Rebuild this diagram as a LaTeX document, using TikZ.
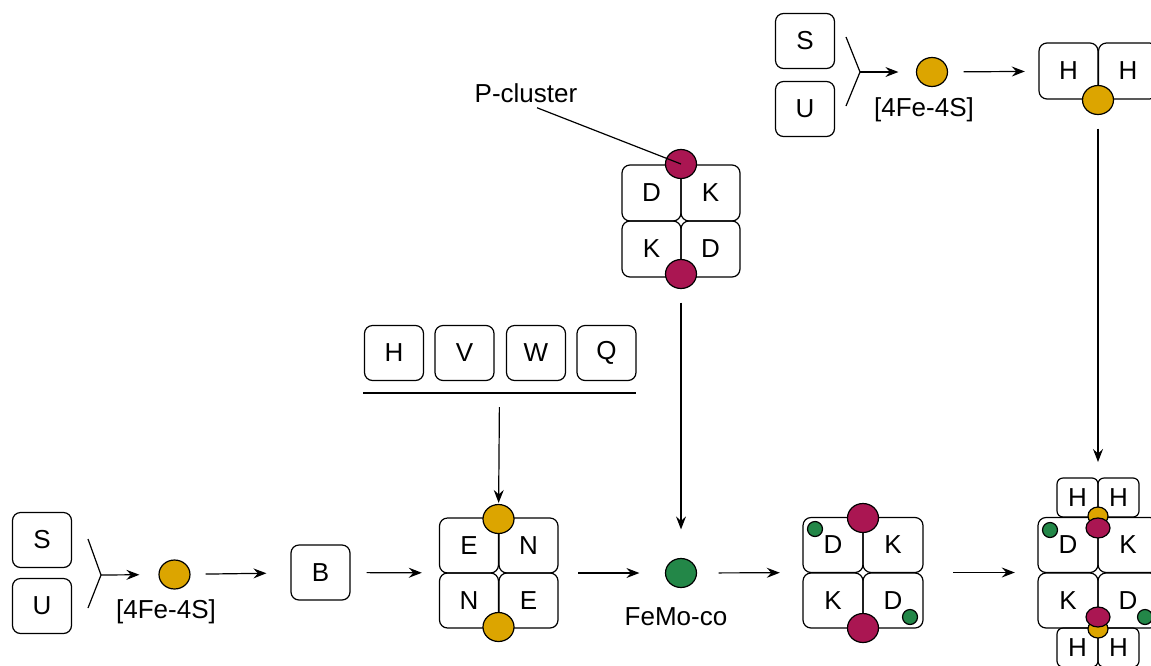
\documentclass[tikz,border=0pt]{standalone}
\usepackage{fontspec}
\setmainfont{Liberation Sans}
\usetikzlibrary{shapes.geometric,arrows.meta}
\definecolor{gold}{HTML}{DCA500}
\definecolor{pc}{HTML}{AA1652}
\definecolor{fm}{HTML}{238748}
\begin{document}
\begin{tikzpicture}[x=1pt,y=-1pt,
  box/.style={draw,rounded corners=8pt,line width=1.2pt,minimum width=59pt,minimum height=55pt,inner sep=0pt,font=\fontsize{26}{30}\selectfont},
  sbox/.style={box,minimum width=41pt,minimum height=39pt,rounded corners=6pt},
  dot/.style={draw,ellipse,line width=1.2pt,inner sep=0pt,minimum width=31pt,minimum height=29pt},
  fes/.style={dot,fill=gold}, pcl/.style={dot,fill=pc}, fmc/.style={dot,fill=fm},
  sdot/.style={dot,minimum width=15pt,minimum height=15pt,fill=fm},
  cplx/.style={inner sep=0pt},
  lbl/.style={font=\fontsize{26}{30}\selectfont,inner sep=0pt},
  arr/.style={line width=1.2pt,-{Stealth[length=13pt,width=10pt,inset=4.5pt]}},
  ln/.style={line width=1.2pt}]
\useasboundingbox (0,0) rectangle (1151,665);

% ---------- bottom row ----------
\node[box] (S1) at (42,540) {S};
\node[box] (U1) at (42,606) {U};
\coordinate (f1a) at (88,539);
\coordinate (f1b) at (88,608);
\coordinate (fork1) at (101,575);
\draw[ln] (f1a) -- (fork1) -- (f1b);
\node[fes] (g1) at (174.5,574.5) {};
\node[lbl] (l1) at (166,612) {[4Fe-4S]};
\draw[arr,shorten >=19pt] (fork1) -- (g1);
\node[box] (B) at (320.5,572.5) {B};
\draw[arr,shorten <=15pt,shorten >=24pt] (g1) -- (B);

% E/N complex
\node[cplx,minimum width=119pt,minimum height=110pt] (EN) at (498.5,573) {};
\node[box] (en1) at (469,545.5) {E};
\node[box] (en2) at (528.5,545.5) {N};
\node[box] (en3) at (469,600.5) {N};
\node[box] (en4) at (528.5,600.5) {E};
\node[fes] (eng1) at (498.5,519) {};
\node[fes] (eng2) at (498.5,627) {};
\draw[arr,shorten <=16pt,shorten >=17pt] (B) -- (EN);

% HVWQ
\node[box] (h1) at (394,353) {H};
\node[box] (v1) at (464.5,353) {V};
\node[box] (w1) at (536,353) {W};
\node[box] (q1) at (606.5,353) {Q};
\coordinate (barL) at (363,393);
\coordinate (barR) at (636,393);
\coordinate (barC) at (499.5,393);
\draw[ln] (barL) -- (barR);
\draw[arr,shorten <=14pt,shorten >=1pt] (barC) -- (eng1);

% FeMo-co
\node[fmc] (femo) at (681,573) {};
\node[lbl] (lfemo) at (676,617) {FeMo-co};
\draw[arr,shorten <=20pt,shorten >=25.5pt] (EN) -- (femo);

% D/K complex (middle, top)
\node[cplx,minimum width=118pt,minimum height=112pt] (DKm) at (681,221) {};
\node[box,minimum height=56pt] (dm1) at (651.5,193) {D};
\node[box,minimum height=56pt] (dm2) at (710.5,193) {K};
\node[box,minimum height=56pt] (dm3) at (651.5,249) {K};
\node[box,minimum height=56pt] (dm4) at (710.5,249) {D};
\node[pcl] (pm1) at (681,164) {};
\node[pcl] (pm2) at (681,274) {};
\node[lbl] (plabel) at (526,93) {P-cluster};
\draw[ln] ([xshift=11pt,yshift=-5pt]plabel.south) -- (pm1.center);
\draw[arr,shorten <=13.5pt,shorten >=28.5pt] (pm2) -- (femo);

% D/K complex (bottom)
\node[cplx,minimum width=120pt,minimum height=111pt] (DKb) at (863,572.5) {};
\node[box,minimum width=60pt] (db1) at (833,545) {D};
\node[box,minimum width=60pt] (db2) at (893,545) {K};
\node[box,minimum width=60pt] (db3) at (833,600.5) {K};
\node[box,minimum width=60pt] (db4) at (893,600.5) {D};
\node[pcl] (dbp1) at (863,518) {};
\node[pcl] (dbp2) at (863,628) {};
\node[sdot] (dbg1) at (815,529) {};
\node[sdot] (dbg2) at (910,617) {};
\draw[arr,shorten <=21.5pt,shorten >=23pt] (femo) -- (DKb);

% final complex
\node[cplx,minimum width=120pt,minimum height=111pt] (FIN) at (1098,572.5) {};
\node[box,minimum width=60pt] (fi1) at (1068,545) {D};
\node[box,minimum width=60pt] (fi2) at (1128,545) {K};
\node[box,minimum width=60pt] (fi3) at (1068,600.5) {K};
\node[box,minimum width=60pt] (fi4) at (1128,600.5) {D};
\node[sbox] (fh1) at (1077.5,497.5) {H};
\node[sbox] (fh2) at (1118.5,497.5) {H};
\node[sbox] (fh3) at (1077.5,647.5) {H};
\node[sbox] (fh4) at (1118.5,647.5) {H};
\node[fes,minimum width=20pt,minimum height=18pt] (fg1) at (1098,516) {};
\node[pcl,minimum width=24pt,minimum height=20pt] (fp1) at (1098,528) {};
\node[fes,minimum width=20pt,minimum height=18pt] (fg2) at (1098,629) {};
\node[pcl,minimum width=24pt,minimum height=20pt] (fp2) at (1098,617) {};
\node[sdot] (fgr1) at (1050,530) {};
\node[sdot] (fgr2) at (1145,617) {};
\coordinate (ftop) at (1098,478);
\draw[arr,shorten <=30pt,shorten >=23pt] (DKb) -- (FIN);

% ---------- top right ----------
\node[box] (S2) at (805,41) {S};
\node[box] (U2) at (805,109) {U};
\coordinate (f2a) at (846,37);
\coordinate (f2b) at (846,106);
\coordinate (fork2) at (860,72);
\draw[ln] (f2a) -- (fork2) -- (f2b);
\node[fes] (g2) at (932,72) {};
\node[lbl] (l2) at (924,110) {[4Fe-4S]};
\draw[arr,shorten >=17.5pt] (fork2) -- (g2);
\node[cplx,minimum width=119pt,minimum height=56pt] (HH) at (1098.5,71) {};
\node[box,minimum height=56pt] (hh1) at (1068.5,71) {H};
\node[box,minimum height=56pt] (hh2) at (1128,71) {H};
\node[fes] (hg) at (1098,100) {};
\draw[arr,shorten <=15.5pt,shorten >=14pt] (g2) -- (HH);
\draw[arr,shorten <=13.5pt,shorten >=16pt] (hg) -- (ftop);
\end{tikzpicture}
\end{document}
